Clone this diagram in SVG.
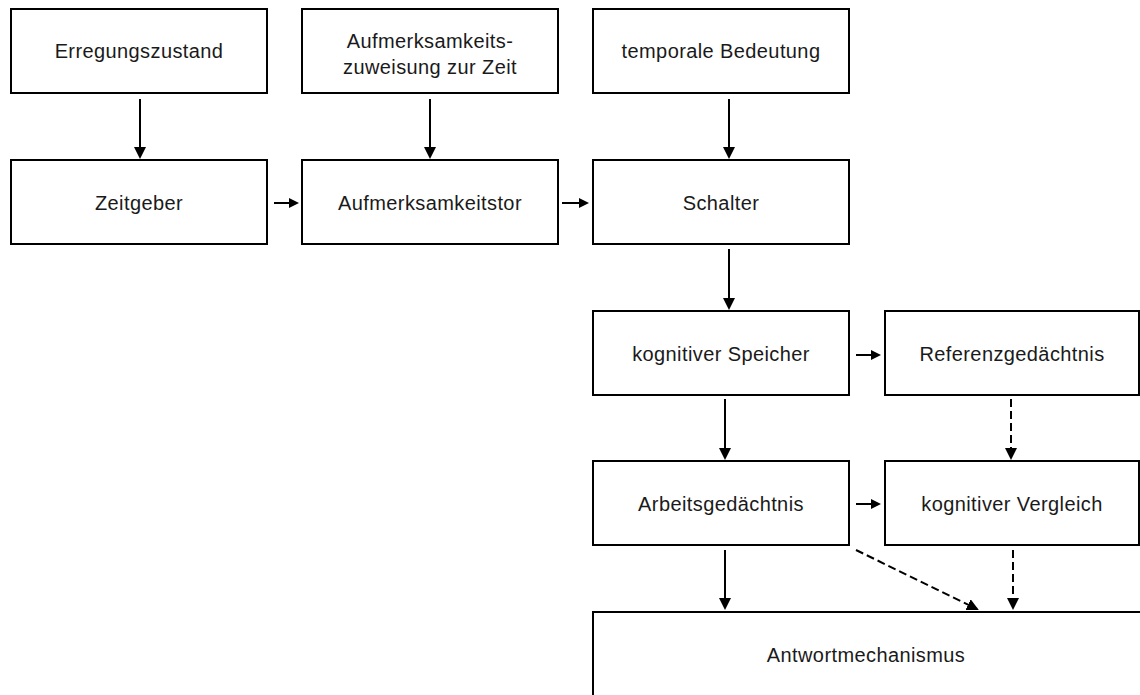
<svg xmlns="http://www.w3.org/2000/svg" width="1140" height="695" viewBox="0 0 1140 695">
<style>
.box{fill:#fff;stroke:#000;stroke-width:2}
.lbl{font-family:"Liberation Sans",Arial,sans-serif;font-size:20px;letter-spacing:0.4px;fill:#1a1a1a;text-anchor:middle}
.c{stroke:#000;stroke-width:2;fill:none}
.v{marker-end:url(#big)}
.h{marker-end:url(#small)}
.d{stroke-dasharray:8 4}
</style>
<defs>
<marker id="big" viewBox="0 0 12 12" markerUnits="userSpaceOnUse" markerWidth="12" markerHeight="12" refX="10" refY="6" orient="auto"><path d="M0,0 L12,6 L0,12 z" fill="#000"/></marker>
<marker id="small" viewBox="0 0 10 10" markerUnits="userSpaceOnUse" markerWidth="10" markerHeight="10" refX="8" refY="5" orient="auto"><path d="M0,0 L10,5 L0,10 z" fill="#000"/></marker>
</defs>
<rect width="1140" height="695" fill="#fff"/>
<g id="erregungszustand"><rect class="box" x="11" y="9" width="256" height="84"/><text class="lbl" x="139" y="58">Erregungszustand</text></g>
<g id="aufmerksamkeitszuweisung"><rect class="box" x="302" y="9" width="256" height="84"/><text class="lbl" x="430" y="48">Aufmerksamkeits-</text><text class="lbl" x="430" y="74">zuweisung zur Zeit</text></g>
<g id="temporale-bedeutung"><rect class="box" x="593" y="9" width="256" height="84"/><text class="lbl" x="721" y="58">temporale Bedeutung</text></g>
<g id="zeitgeber"><rect class="box" x="11" y="160" width="256" height="84"/><text class="lbl" x="139" y="210">Zeitgeber</text></g>
<g id="aufmerksamkeitstor"><rect class="box" x="302" y="160" width="256" height="84"/><text class="lbl" x="430" y="210">Aufmerksamkeitstor</text></g>
<g id="schalter"><rect class="box" x="593" y="160" width="256" height="84"/><text class="lbl" x="721" y="210">Schalter</text></g>
<g id="kognitiver-speicher"><rect class="box" x="593" y="311" width="256" height="84"/><text class="lbl" x="721" y="361">kognitiver Speicher</text></g>
<g id="referenzgedaechtnis"><rect class="box" x="885" y="311" width="254" height="84"/><text class="lbl" x="1012" y="361">Referenzgedächtnis</text></g>
<g id="arbeitsgedaechtnis"><rect class="box" x="593" y="461" width="256" height="84"/><text class="lbl" x="721" y="511">Arbeitsgedächtnis</text></g>
<g id="kognitiver-vergleich"><rect class="box" x="885" y="461" width="254" height="84"/><text class="lbl" x="1012" y="511">kognitiver Vergleich</text></g>
<g id="antwortmechanismus"><rect class="box" x="593" y="612" width="560" height="100"/><text class="lbl" x="866" y="662">Antwortmechanismus</text></g>
<g id="connectors">
<line class="c v" x1="140" y1="99" x2="140" y2="157"/>
<line class="c v" x1="430" y1="99" x2="430" y2="157"/>
<line class="c v" x1="729" y1="99" x2="729" y2="157"/>
<line class="c v" x1="729" y1="249" x2="729" y2="308"/>
<line class="c v" x1="725" y1="399" x2="725" y2="458"/>
<line class="c v" x1="725" y1="550" x2="725" y2="608"/>
<line class="c h" x1="274" y1="203" x2="297" y2="203"/>
<line class="c h" x1="562" y1="203" x2="587" y2="203"/>
<line class="c h" x1="856" y1="355" x2="879" y2="355"/>
<line class="c h" x1="856" y1="504" x2="879" y2="504"/>
<line class="c v d" x1="1011" y1="399" x2="1011" y2="458"/>
<line class="c v d" x1="1013" y1="550" x2="1013" y2="608"/>
<line class="c v d" x1="856" y1="550" x2="977" y2="609"/>
</g>
</svg>
